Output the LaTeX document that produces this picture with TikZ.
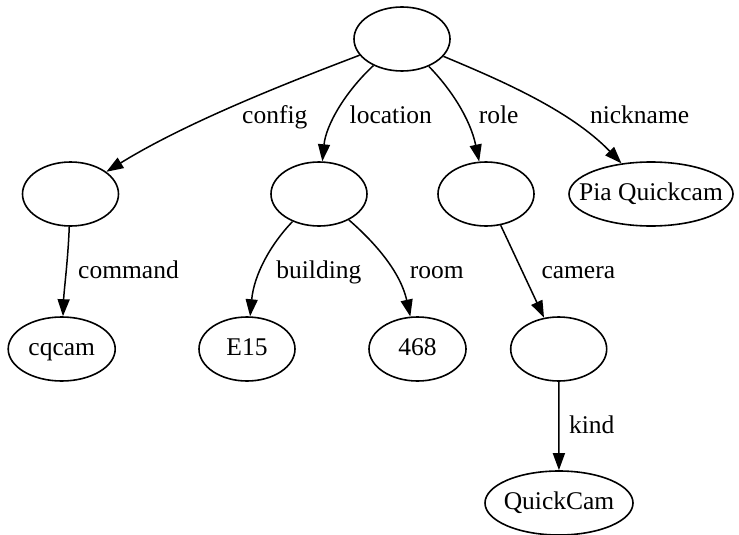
\documentclass[tikz,border=0pt]{standalone}
\usepackage{fontspec}
\setmainfont{Liberation Serif}
\usetikzlibrary{shapes.geometric,arrows.meta}
% node text that does not widen the ellipse beyond its minimum size
\newcommand{\zerowidth}[1]{\makebox[0pt]{#1}}
\begin{document}
\begin{tikzpicture}[x=1pt,y=-1pt,
  vertex/.style={ellipse,draw,line width=1.6pt,minimum width=96pt,minimum height=64pt,
    inner sep=0pt,text height=17pt,text depth=5pt,font=\fontsize{25.5}{30}\selectfont},
  link/.style={line width=1.5pt,-{Triangle[length=17pt,width=12pt]}},
  tag/.style={anchor=base,inner sep=0pt,font=\fontsize{25.5}{30}\selectfont}]
\useasboundingbox (0,0) rectangle (739,535);

% tree nodes
\node[vertex] (root)  at (402,39) {};
\node[vertex] (cfg)   at (70.5,194) {};
\node[vertex] (loc)   at (319,194) {};
\node[vertex] (role)  at (486,194) {};
\node[vertex,minimum width=164pt] (pia) at (651,194) {\zerowidth{Pia Quickcam}};
\node[vertex,minimum width=107pt] (cqcam) at (61.7,349) {\zerowidth{cqcam}};
\node[vertex] (e15)   at (247,349) {\zerowidth{E15}};
\node[vertex,minimum width=97pt] (room) at (417.5,349) {\zerowidth{468}};
\node[vertex] (cam)   at (558.7,349) {};
\node[vertex,minimum width=148pt] (qc) at (559,503) {\zerowidth{QuickCam}};

% edges
\draw[link] (root) .. controls (300,78) and (190,120) .. (cfg);
\draw[link] (root) .. controls (345,92) and (326,125) .. (loc);
\draw[link] (root) .. controls (450,88) and (470,118) .. (role);
\draw[link] (root) .. controls (500,80) and (570,110) .. (pia);
\draw[link] (cfg) .. controls (68,260) and (64,290) .. (cqcam);
\draw[link] (loc) .. controls (270,245) and (254,275) .. (e15);
\draw[link] (loc) .. controls (372,240) and (400,270) .. (room);
\draw[link] (role) -- (cam);
\draw[link] (cam) -- (qc);

% edge labels
\node[tag] (lcfg)  at (274.8,123) {config};
\node[tag] (lloc)  at (390.8,123) {location};
\node[tag] (lrole) at (498.6,123) {role};
\node[tag] (lnick) at (639.6,123) {nickname};
\node[tag] (lcmd)  at (128.5,278) {command};
\node[tag] (lbld)  at (318.9,278) {building};
\node[tag] (lroom) at (436.8,278) {room};
\node[tag] (lcam)  at (578.3,278) {camera};
\node[tag] (lkind) at (591.7,433) {kind};
\end{tikzpicture}
\end{document}
